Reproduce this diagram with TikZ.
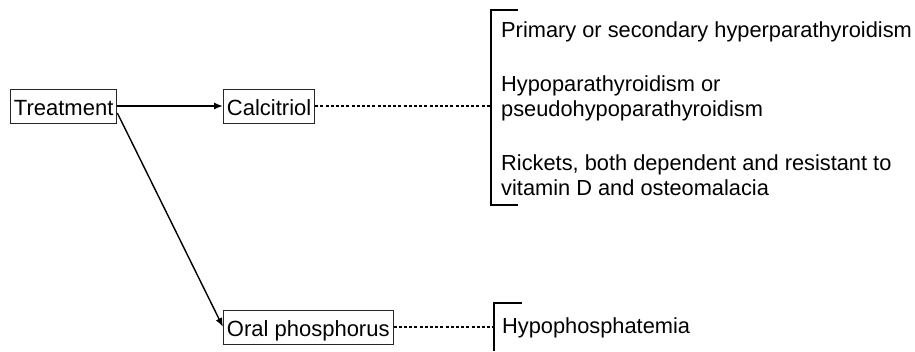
\documentclass[tikz,border=0pt]{standalone}
\usepackage{fontspec}
\setmainfont{Liberation Sans}
\usetikzlibrary{arrows.meta}
\begin{document}
\begin{tikzpicture}[x=1pt,y=-1pt,
  box/.style={draw=black!85, line width=0.9pt, inner xsep=3.5pt, inner ysep=3.5pt,
    text height=23pt, text depth=4pt, anchor=west, font=\fontsize{22}{25}\selectfont},
  lbl/.style={anchor=base west, inner sep=0pt, font=\fontsize{21.8}{25}\selectfont},
  arr/.style={line width=1.4pt, -{Latex[length=9pt,width=7pt]}},
  dsh/.style={line width=1.2pt, dash pattern=on 3pt off 2.2pt},
  brk/.style={line width=1.5pt}]
\useasboundingbox (0,0) rectangle (915,351);
\fill[white] (0,0) rectangle (915,351);

\node[box] (treat) at (10,106) {Treatment};
\node[box] (calc) at (223,106) {Calcitriol};
\node[box] (oral) at (223,327) {Oral phosphorus};

\draw[arr] (treat.east) -- (calc.west);
\draw[arr] ([yshift=-7pt]treat.east) -- (oral.west);

% top bracket
\coordinate (b1) at (491,106);
\coordinate (b1t) at (491,10);
\coordinate (b1b) at (491,205);
\draw[brk] (518,10) -- (b1t) -- (b1b) -- (518,205);
\draw[dsh] (calc.east) -- (b1);

\node[lbl] (l1) at (501,37.7) {Primary or secondary hyperparathyroidism};
\node[lbl] (l2) at (501,91.5) {Hypoparathyroidism or};
\node[lbl] (l3) at (501,116.5) {pseudohypoparathyroidism};
\node[lbl] (l4) at (501,170) {Rickets, both dependent and resistant to};
\node[lbl] (l5) at (501,195) {vitamin D and osteomalacia};

% bottom bracket
\coordinate (b2) at (494,327);
\coordinate (b2t) at (494,303);
\coordinate (b2b) at (494,351);
\draw[brk] (522,303) -- (b2t) -- (b2b);
\draw[dsh] (oral.east) -- (b2);

\node[lbl] (l6) at (502,333.3) {Hypophosphatemia};
\end{tikzpicture}
\end{document}
